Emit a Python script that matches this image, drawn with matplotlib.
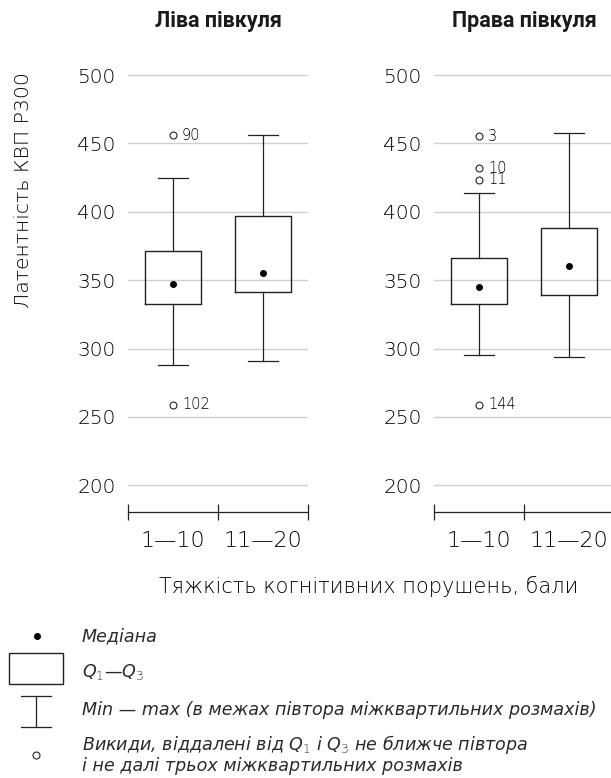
import matplotlib
matplotlib.use("Agg")
import matplotlib.pyplot as plt
from matplotlib.patches import Rectangle

plt.rcParams['font.family'] = ['DejaVu Sans']
plt.rcParams['mathtext.fontset'] = 'custom'
plt.rcParams['mathtext.rm'] = 'DejaVu Sans:light'
plt.rcParams['mathtext.it'] = 'DejaVu Sans:italic'

# ---- data ----
categories = ["1—10", "11—20"]
panel_titles = ["Ліва півкуля", "Права півкуля"]
y_ticks = [200, 250, 300, 350, 400, 450, 500]

left_q1 = [332.4, 341.4]
left_med = [347.2, 355.3]
left_q3 = [371.4, 396.6]
left_lo = [287.7, 291.1]
left_hi = [424.4, 456.0]
left_out_vals = [[456.0, 259.0], []]
left_out_ids = [["90", "102"], []]

right_q1 = [332.8, 339.5]
right_med = [344.8, 360.7]
right_q3 = [366.5, 388.2]
right_lo = [295.5, 293.8]
right_hi = [413.6, 457.5]
right_out_vals = [[455.1, 431.7, 423.4, 259.0], []]
right_out_ids = [["3", "10", "11", "144"], []]

ylabel = "Латентність КВП Р300"
xlabel = "Тяжкість когнітивних порушень, бали"

W, H = 611, 778
fig = plt.figure(figsize=(W / 100, H / 100), dpi=100)
dark = "#222222"
txt = "#000000"
grid_c = "#cfcfcf"
LW = 'light'

def px_axes(x0, x1, ytop, ybot):
    return [x0 / W, 1 - ybot / H, (x1 - x0) / W, (ybot - ytop) / H]

panels = [
    (128, panel_titles[0], left_q1, left_med, left_q3, left_lo, left_hi, left_out_vals, left_out_ids),
    (434, panel_titles[1], right_q1, right_med, right_q3, right_lo, right_hi, right_out_vals, right_out_ids),
]

ymin, ymax = 180.7, 510
for x0, title, q1, med, q3, lo, hi, ov, oid in panels:
    ytop = 75 - (ymax - 500) * 68.3 / 50
    ax = fig.add_axes(px_axes(x0, x0 + 180, ytop, 511.7))
    stats = []
    for i in range(len(categories)):
        stats.append(dict(med=med[i], mean=med[i], q1=q1[i], q3=q3[i],
                          whislo=lo[i], whishi=hi[i], fliers=ov[i], label=categories[i]))
    positions = [i + 0.5 for i in range(len(categories))]
    ax.bxp(stats, positions=positions, widths=0.62, capwidths=0.33,
           showmeans=True, manage_ticks=False,
           boxprops=dict(color=dark, linewidth=1.0),
           whiskerprops=dict(color=dark, linewidth=0.9),
           capprops=dict(color=dark, linewidth=0.9),
           medianprops=dict(linewidth=0),
           meanprops=dict(marker='o', markerfacecolor='black', markeredgecolor='black', markersize=4),
           flierprops=dict(marker='o', markerfacecolor='white', markeredgecolor=dark,
                           markersize=5, markeredgewidth=0.8))
    for i in range(len(categories)):
        for v, lab in zip(ov[i], oid[i]):
            ax.annotate(lab, (positions[i], v), xytext=(6.5, 0), textcoords='offset points',
                        ha='left', va='center', fontsize=10.5, color=txt, fontweight=LW)
    ax.set_xlim(0, len(categories))
    ax.set_ylim(ymin, ymax)
    ax.set_yticks(y_ticks)
    ax.set_yticklabels([str(t) for t in y_ticks], fontsize=14.5, color=txt, fontweight=LW)
    ax.tick_params(axis='y', length=0, pad=9)
    ax.yaxis.grid(True, color=grid_c, linewidth=1.0)
    ax.set_axisbelow(True)
    ax.set_xticks(range(len(categories) + 1))
    ax.set_xticklabels([])
    ax.set_xticks(positions, minor=True)
    ax.set_xticklabels(categories, minor=True, fontsize=16, color=txt, fontweight=LW)
    ax.tick_params(axis='x', which='major', direction='inout', length=11.5, width=0.9, color=dark)
    ax.tick_params(axis='x', which='minor', length=0, pad=14)
    for s in ['top', 'right', 'left']:
        ax.spines[s].set_visible(False)
    ax.spines['bottom'].set_color(dark)
    ax.spines['bottom'].set_linewidth(0.9)
    ax.patch.set_alpha(0)
    fig.text((x0 + 90) / W, 1 - 21 / H, title, ha='center', va='center',
             fontsize=15.5, fontweight='bold', color="#1a1a1a", family=['Roboto', 'DejaVu Sans'])

fig.text(24 / W, 1 - 190 / H, ylabel, rotation=90, ha='center', va='center',
         fontsize=14.7, color=txt, fontweight=LW)
fig.text(369 / W, 1 - 586 / H, xlabel, ha='center', va='center',
         fontsize=15.0, color=txt, fontweight=LW)

# ---- legend (key) ----
lg = fig.add_axes([0, 0, 1, 1])
lg.set_xlim(0, W)
lg.set_ylim(H, 0)
lg.axis('off')
lg.patch.set_alpha(0)
lg.plot([37], [636], 'o', color='black', markersize=4)
lg.add_patch(Rectangle((9, 653), 54, 31, fill=False, edgecolor=dark, linewidth=1.0))
lg.plot([21, 51], [696, 696], color=dark, linewidth=0.9)
lg.plot([21, 51], [727, 727], color=dark, linewidth=0.9)
lg.plot([36, 36], [696, 727], color=dark, linewidth=0.9)
lg.plot([36], [755], 'o', markerfacecolor='white', markeredgecolor=dark, markersize=5, markeredgewidth=0.8)
leg_kw = dict(fontsize=12.6, style='italic', color="#2a2a2a", va='center', ha='left')
lg.text(82, 636, "Медіана", **leg_kw)
lg.text(82, 672, "$Q_1$—$Q_3$", **leg_kw)
lg.text(82, 710, "Min — max (в межах півтора міжквартильних розмахів)", **leg_kw)
lg.text(82, 745, "Викиди, віддалені від $Q_1$ і $Q_3$ не ближче півтора", **leg_kw)
lg.text(82, 766, "і не далі трьох міжквартильних розмахів", **leg_kw)

fig.savefig("out.png", dpi=100)
